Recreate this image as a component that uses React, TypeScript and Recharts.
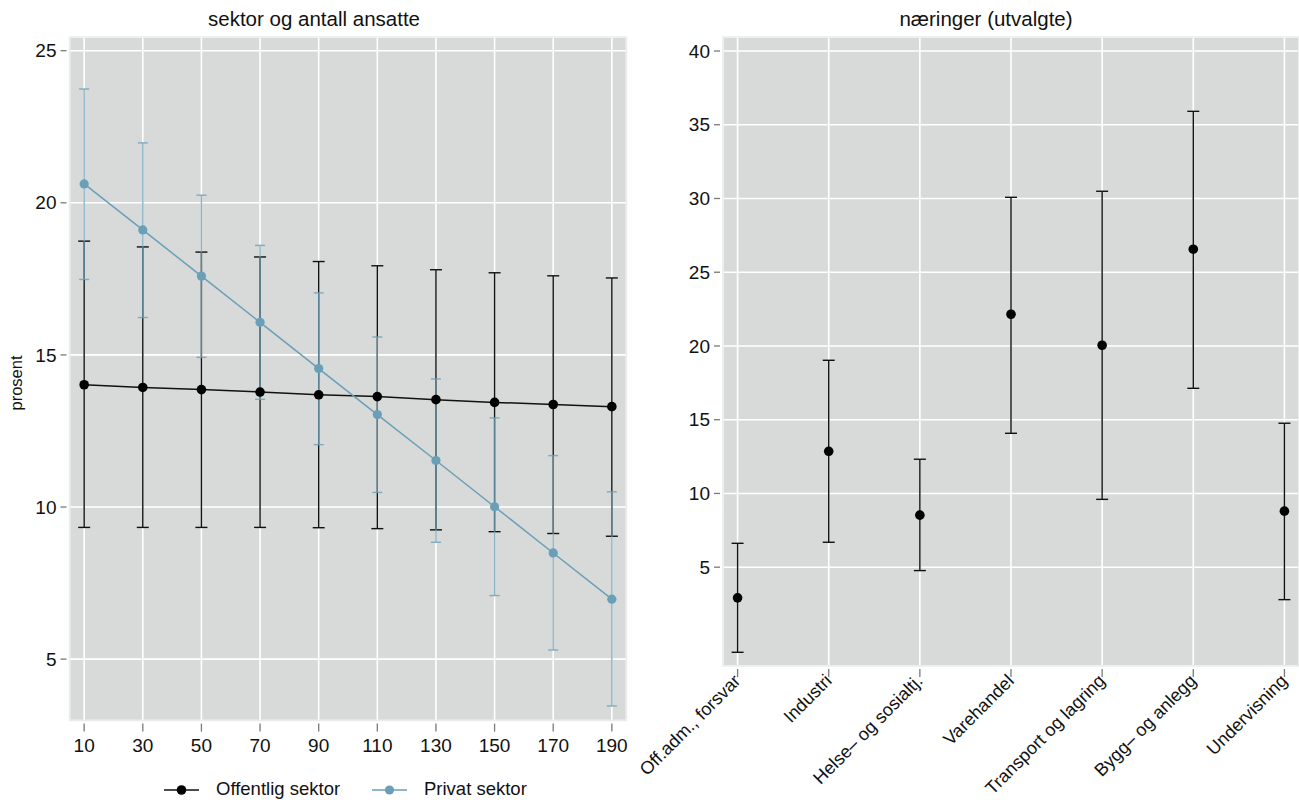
import React from 'react';
import { ComposedChart, Line, XAxis, YAxis, CartesianGrid, ErrorBar, ReferenceArea } from 'recharts';

// ---- Left panel: sektor og antall ansatte ----
const ansatte = [10, 30, 50, 70, 90, 110, 130, 150, 170, 190];
const offentlig = [14.02, 13.93, 13.86, 13.78, 13.69, 13.63, 13.53, 13.44, 13.37, 13.30];
const offentligHigh = [18.74, 18.55, 18.38, 18.22, 18.07, 17.93, 17.80, 17.70, 17.60, 17.53];
const offentligLow = [9.33, 9.33, 9.33, 9.33, 9.32, 9.29, 9.25, 9.19, 9.13, 9.04];
const privat = [20.62, 19.11, 17.59, 16.07, 14.55, 13.04, 11.53, 10.01, 8.49, 6.97];
const privatHigh = [23.74, 21.97, 20.25, 18.60, 17.04, 15.59, 14.21, 12.93, 11.69, 10.50];
const privatLow = [17.48, 16.23, 14.92, 13.54, 12.05, 10.48, 8.84, 7.09, 5.30, 3.46];
const leftYTicks = [5, 10, 15, 20, 25];

// ---- Right panel: næringer (utvalgte) ----
const naeringer = ['Off.adm., forsvar', 'Industri', 'Helse\u2013 og sosialtj.', 'Varehandel', 'Transport og lagring', 'Bygg\u2013 og anlegg', 'Undervisning'];
const naeringVerdi = [2.92, 12.86, 8.53, 22.15, 20.05, 26.56, 8.80];
const naeringHigh = [6.62, 19.03, 12.32, 30.08, 30.49, 35.91, 14.76];
const naeringLow = [-0.77, 6.69, 4.77, 14.08, 9.60, 17.13, 2.80];
const rightYTicks = [5, 10, 15, 20, 25, 30, 35, 40];

const FONT = '"Liberation Sans", Arial, Helvetica, sans-serif';
const BG = '#d8d9d9';
const BLUE = '#6a9fb8';
const TICK = '#7a7a7a';

const leftData = ansatte.map((a, i) => ({
  x: a,
  off: offentlig[i],
  offErr: [offentlig[i] - offentligLow[i], offentligHigh[i] - offentlig[i]],
  pri: privat[i],
  priErr: [privat[i] - privatLow[i], privatHigh[i] - privat[i]],
}));

const rightData = naeringer.map((n, i) => ({
  x: i,
  v: naeringVerdi[i],
  err: [naeringVerdi[i] - naeringLow[i], naeringHigh[i] - naeringVerdi[i]],
}));

const YTick = (props: any) => {
  const { x, y, payload } = props;
  return (
    <g>
      <line x1={x - 9} x2={x - 3} y1={y} y2={y} stroke={TICK} strokeWidth={1.3} />
      <text x={x - 13} y={y} dy="0.35em" textAnchor="end" fontSize={19} fontFamily={FONT} fill="#111">
        {payload.value}
      </text>
    </g>
  );
};

const LeftXTick = (props: any) => {
  const { x, y, payload } = props;
  return (
    <g>
      <line x1={x} x2={x} y1={y + 3} y2={y + 11} stroke={TICK} strokeWidth={1.3} />
      <text x={x} y={y + 31} textAnchor="middle" fontSize={19} fontFamily={FONT} fill="#111">
        {payload.value}
      </text>
    </g>
  );
};

const RightXTick = (props: any) => {
  const { x, y, payload } = props;
  const label = naeringer[payload.value];
  const ax = x + 4;
  const ay = y + 16;
  return (
    <g>
      <line x1={x} x2={x} y1={y + 3} y2={y + 11} stroke={TICK} strokeWidth={1.3} />
      <text
        x={ax}
        y={ay}
        textAnchor="end"
        fontSize={18}
        fontFamily={FONT}
        fill="#111"
        transform={`rotate(-45, ${ax}, ${ay})`}
      >
        {label}
      </text>
    </g>
  );
};

const Dot = ({ color, r }: { color: string; r: number }) => (props: any) => {
  const { cx, cy, index } = props;
  return <circle key={index} cx={cx} cy={cy} r={r} fill={color} stroke="none" />;
};

export default function App() {
  return (
    <div style={{ position: 'absolute', left: 0, top: 0, width: 1299, height: 800, background: '#fff', fontFamily: FONT, overflow: 'hidden' }}>
      {/* Right chart (placed first so the left chart is not covered) */}
      <div style={{ position: 'absolute', left: 600, top: 0 }}>
        <ComposedChart width={699} height={800} data={rightData} margin={{ top: 37, right: 0, bottom: 104, left: 63 }} style={{ overflow: 'visible' }}>
          <CartesianGrid fill={BG} stroke="#ffffff" strokeWidth={1.6} />
          <ReferenceArea x1={-0.16} x2={6.16} y1={-1.7} y2={40.95} fill="none" stroke="#ececec" strokeWidth={1.5} />
          <XAxis
            type="number"
            dataKey="x"
            domain={[-0.16, 6.16]}
            ticks={[0, 1, 2, 3, 4, 5, 6]}
            height={30}
            axisLine={false}
            tickLine={false}
            tickSize={0}
            tickMargin={0}
            interval={0}
            allowDataOverflow
            tick={<RightXTick />}
          />
          <YAxis
            type="number"
            domain={[-1.7, 40.95]}
            ticks={rightYTicks}
            width={60}
            axisLine={false}
            tickLine={false}
            tickSize={0}
            tickMargin={0}
            interval={0}
            allowDataOverflow
            tick={<YTick />}
          />
          <Line
            dataKey="v"
            stroke="none"
            isAnimationActive={false}
            dot={Dot({ color: '#000', r: 4.8 })}
            activeDot={false}
          >
            <ErrorBar dataKey="err" direction="y" width={6} stroke="#111" strokeWidth={1.4} isAnimationActive={false} />
          </Line>
        </ComposedChart>
        <div style={{ position: 'absolute', left: 90, top: 7, width: 592, textAlign: 'center', fontSize: 20.5, color: '#111', whiteSpace: 'nowrap' }}>
          næringer (utvalgte)
        </div>
      </div>

      {/* Left chart */}
      <div style={{ position: 'absolute', left: 0, top: 0 }}>
        <ComposedChart width={640} height={800} data={leftData} margin={{ top: 37, right: 13.5, bottom: 49.4, left: 9.5 }}>
          <CartesianGrid fill={BG} stroke="#ffffff" strokeWidth={1.6} />
          <ReferenceArea x1={5} x2={195} y1={2.98} y2={25.45} fill="none" stroke="#ececec" strokeWidth={1.5} />
          <XAxis
            type="number"
            dataKey="x"
            domain={[5, 195]}
            ticks={ansatte}
            height={30}
            axisLine={false}
            tickLine={false}
            tickSize={0}
            tickMargin={0}
            interval={0}
            tick={<LeftXTick />}
          />
          <YAxis
            type="number"
            domain={[2.98, 25.45]}
            ticks={leftYTicks}
            width={60}
            axisLine={false}
            tickLine={false}
            tickSize={0}
            tickMargin={0}
            interval={0}
            allowDataOverflow
            tick={<YTick />}
          />
          <Line
            dataKey="off"
            stroke="#111"
            strokeWidth={1.5}
            isAnimationActive={false}
            dot={Dot({ color: '#000', r: 4.8 })}
            activeDot={false}
          >
            <ErrorBar dataKey="offErr" direction="y" width={6} stroke="#111" strokeWidth={1.4} isAnimationActive={false} />
          </Line>
          <Line
            dataKey="pri"
            stroke={BLUE}
            strokeWidth={1.5}
            isAnimationActive={false}
            dot={Dot({ color: BLUE, r: 4.6 })}
            activeDot={false}
          >
            <ErrorBar dataKey="priErr" direction="y" width={5} stroke={BLUE} strokeOpacity={0.8} strokeWidth={1.4} isAnimationActive={false} />
          </Line>
        </ComposedChart>
        <div style={{ position: 'absolute', left: 0, top: 7, width: 628, textAlign: 'center', fontSize: 20.5, color: '#111', whiteSpace: 'nowrap' }}>
          sektor og antall ansatte
        </div>
        <div
          style={{
            position: 'absolute',
            left: 16,
            top: 383,
            fontSize: 16.5,
            color: '#111',
            transform: 'translate(-50%, -50%) rotate(-90deg)',
            whiteSpace: 'nowrap',
          }}
        >
          prosent
        </div>
        {/* Legend */}
        <div style={{ position: 'absolute', left: 0, top: 778, width: 640, height: 24, fontSize: 18.5, color: '#111' }}>
          <svg style={{ position: 'absolute', left: 163, top: 3 }} width={38} height={18}>
            <line x1={1} x2={36} y1={9} y2={9} stroke="#111" strokeWidth={1.5} />
            <circle cx={18.5} cy={9} r={4.8} fill="#000" />
          </svg>
          <span style={{ position: 'absolute', left: 216, top: 0, whiteSpace: 'nowrap' }}>Offentlig sektor</span>
          <svg style={{ position: 'absolute', left: 371, top: 3 }} width={38} height={18}>
            <line x1={1} x2={36} y1={9} y2={9} stroke={BLUE} strokeWidth={1.5} />
            <circle cx={18.5} cy={9} r={4.6} fill={BLUE} />
          </svg>
          <span style={{ position: 'absolute', left: 424, top: 0, whiteSpace: 'nowrap' }}>Privat sektor</span>
        </div>
      </div>
    </div>
  );
}
